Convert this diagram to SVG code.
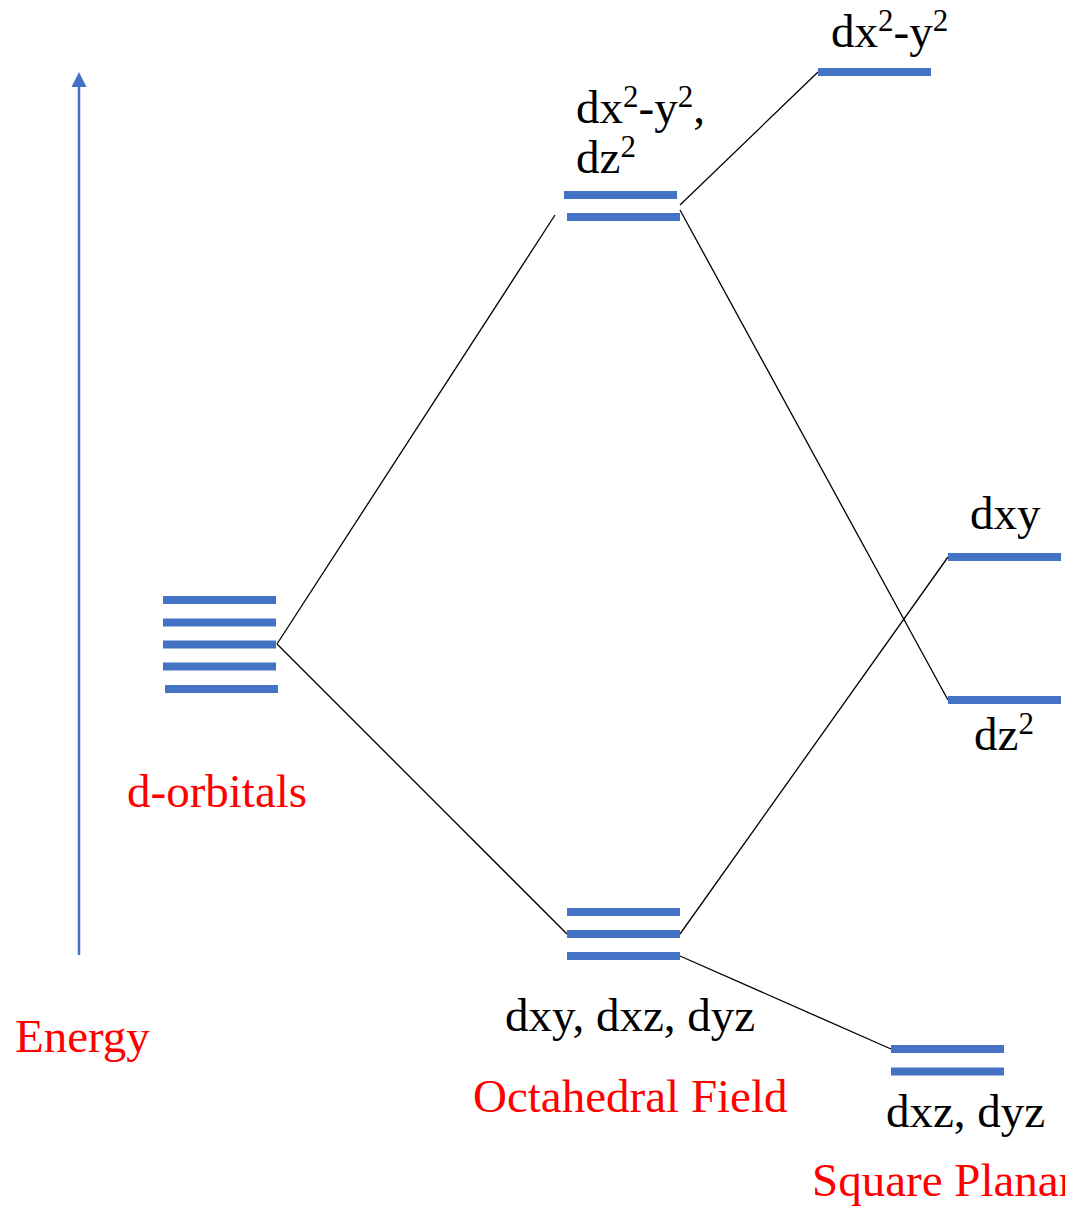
<svg xmlns="http://www.w3.org/2000/svg" width="1065" height="1207" viewBox="0 0 1065 1207">
<style>
.lvl{stroke:#4472C4;stroke-width:8;fill:none}
.con{stroke:#000;stroke-width:1.3;fill:none}
text{font-family:"Liberation Serif","Times New Roman",serif;font-size:47px}
.blk{fill:#000}
.red{fill:#FF0000}
.sup{font-size:31px}
</style>
<defs>
<marker id="ah" markerWidth="16" markerHeight="16" refX="0" refY="8" orient="auto" markerUnits="userSpaceOnUse" viewBox="0 0 16 16">
<path d="M0,0.5 L15,8 L0,15.5 Z" fill="#4472C4"/>
</marker>
</defs>
<rect width="1065" height="1207" fill="#fff"/>
<g id="connectors">
<line class="con" x1="277" y1="644" x2="555" y2="215"/>
<line class="con" x1="277" y1="644" x2="567" y2="934"/>
<line class="con" x1="680" y1="205" x2="818" y2="72"/>
<line class="con" x1="680" y1="210" x2="948" y2="700"/>
<line class="con" x1="680" y1="934" x2="948" y2="557"/>
<line class="con" x1="680" y1="956" x2="891" y2="1049"/>
</g>
<g id="energy-axis">
<line x1="79" y1="955" x2="79" y2="87" stroke="#4472C4" stroke-width="2.5" marker-end="url(#ah)"/>
<text class="red" x="15" y="1052">Energy</text>
</g>
<g id="d-orbitals">
<line class="lvl" x1="163" y1="600" x2="276" y2="600"/>
<line class="lvl" x1="163" y1="622.5" x2="276" y2="622.5"/>
<line class="lvl" x1="163" y1="644.5" x2="276" y2="644.5"/>
<line class="lvl" x1="163" y1="666.5" x2="276" y2="666.5"/>
<line class="lvl" x1="165" y1="689" x2="278" y2="689"/>
<text class="red" x="127" y="807">d-orbitals</text>
</g>
<g id="oct-eg">
<line class="lvl" x1="564" y1="195" x2="677" y2="195"/>
<line class="lvl" x1="567" y1="217" x2="680" y2="217"/>
<text class="blk" x="576" y="123">dx<tspan class="sup" dy="-16">2</tspan><tspan dy="16">-y</tspan><tspan class="sup" dy="-16">2</tspan><tspan dy="16">,</tspan></text>
<text class="blk" x="576" y="173">dz<tspan class="sup" dy="-16">2</tspan></text>
</g>
<g id="oct-t2g">
<line class="lvl" x1="567" y1="912" x2="680" y2="912"/>
<line class="lvl" x1="567" y1="934" x2="680" y2="934"/>
<line class="lvl" x1="567" y1="956" x2="680" y2="956"/>
<text class="blk" x="505" y="1031">dxy, dxz, dyz</text>
<text class="red" x="473" y="1112">Octahedral Field</text>
</g>
<g id="sp-dx2y2">
<line class="lvl" x1="818" y1="72" x2="931" y2="72"/>
<text class="blk" x="831" y="47">dx<tspan class="sup" dy="-16">2</tspan><tspan dy="16">-y</tspan><tspan class="sup" dy="-16">2</tspan></text>
</g>
<g id="sp-dxy">
<line class="lvl" x1="948" y1="557" x2="1061" y2="557"/>
<text class="blk" x="970" y="529">dxy</text>
</g>
<g id="sp-dz2">
<line class="lvl" x1="948" y1="700" x2="1061" y2="700"/>
<text class="blk" x="974" y="750">dz<tspan class="sup" dy="-16">2</tspan></text>
</g>
<g id="sp-dxz-dyz">
<line class="lvl" x1="891" y1="1049" x2="1004" y2="1049"/>
<line class="lvl" x1="891" y1="1071.5" x2="1004" y2="1071.5"/>
<text class="blk" x="886" y="1127">dxz, dyz</text>
<text class="red" x="812" y="1196">Square Planar</text>
</g>
</svg>
